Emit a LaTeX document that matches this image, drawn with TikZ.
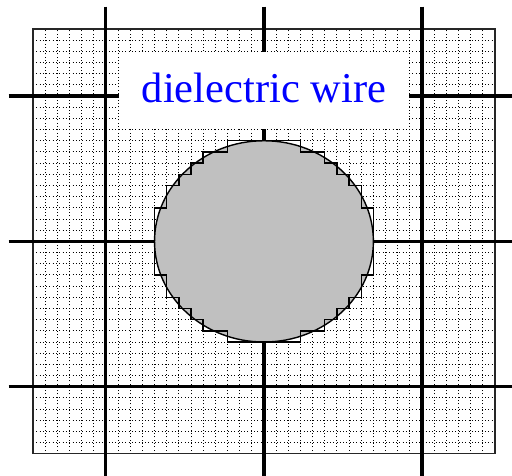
\documentclass[tikz,border=0pt]{standalone}
\usepackage{fontspec}
\setmainfont{Liberation Serif}
\definecolor{wiregray}{RGB}{192,192,192}
\definecolor{labelblue}{RGB}{0,0,255}
\begin{document}
\begin{tikzpicture}[x=12.158pt,y=11.18pt,
  finegrid/.style={line width=1pt,dash pattern=on 1pt off 2.3pt,black},
  coarse/.style={line width=3.2pt,black},
  outline/.style={line width=1.2pt,black!85},
  wire/.style={line width=1.4pt,black},
  label/.style={text=labelblue,font=\fontsize{42.5}{46}\selectfont,inner sep=0pt,anchor=base}]
\useasboundingbox (-21.71,-20.98) rectangle (20.40,21.59);
\clip (-21.71,-20.98) rectangle (20.40,21.59);
\fill[white] (-21.71,-20.98) rectangle (20.40,21.59);
% fine dotted grid
\foreach \i in {-18,...,18} {
  \draw[finegrid] (\i,-19) -- (\i,19);
  \draw[finegrid] (-19,\i) -- (19,\i);
}
\draw[outline] (-19,-19) rectangle (19,19);
% coarse grid
\foreach \i in {-13,0,13} {
  \draw[coarse] (\i,21) -- (\i,-22);
  \draw[coarse] (-21,\i) -- (22,\i);
}
% label area
\fill[white] (-11.94,10.06) rectangle (11.94,16.94);
\node[label] (lbl) at (0,12.38) {dielectric wire};
% wire
\filldraw[wire,fill=wiregray] (0,0) ellipse [x radius=9,y radius=9];
\draw[wire] (-3,9) -- (3,9) -- (3,8) -- (5,8) -- (5,7) -- (6,7) -- (6,6) -- (7,6) -- (7,5) -- (8,5) -- (8,3) -- (9,3)
  -- (9,-3) -- (8,-3) -- (8,-5) -- (7,-5) -- (7,-6) -- (6,-6) -- (6,-7) -- (5,-7) -- (5,-8) -- (3,-8) -- (3,-9)
  -- (-3,-9) -- (-3,-8) -- (-5,-8) -- (-5,-7) -- (-6,-7) -- (-6,-6) -- (-7,-6) -- (-7,-5) -- (-8,-5) -- (-8,-3) -- (-9,-3)
  -- (-9,3) -- (-8,3) -- (-8,5) -- (-7,5) -- (-7,6) -- (-6,6) -- (-6,7) -- (-5,7) -- (-5,8) -- (-3,8) -- cycle;
\end{tikzpicture}
\end{document}
